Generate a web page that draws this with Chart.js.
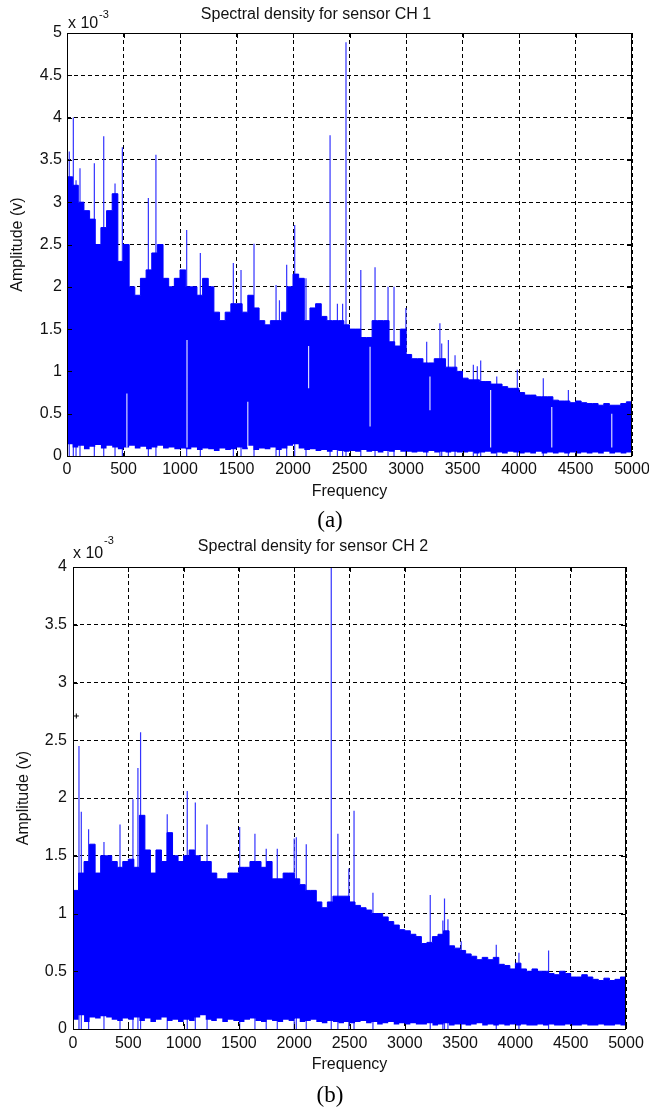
<!DOCTYPE html>
<html>
<head>
<meta charset="utf-8">
<script src="https://cdn.jsdelivr.net/npm/chart.js@4.4.0/dist/chart.umd.min.js"></script>
<style>
  body { margin: 0; background: #fff; }
  #hoja { position: relative; width: 649px; height: 1116px; overflow: hidden; }
  canvas { position: absolute; left: 0; }
  .expo { position: absolute; font-family: "Liberation Sans", Arial, sans-serif; color: #111; white-space: nowrap; }
  .cap { position: absolute; width: 100px; text-align: center; font-family: "Liberation Serif", "Times New Roman", serif; font-size: 23px; line-height: 26px; color: #000; }
</style>
</head>
<body>
<div id="hoja">
  <canvas id="graficoA" width="649" height="505" style="top:0"></canvas>
  <canvas id="graficoB" width="649" height="560" style="top:527px"></canvas>
  <span class="expo" style="left:68px;top:13px;font-size:16px;line-height:19px">x 10</span>
  <span class="expo" style="left:99px;top:8px;font-size:11px;line-height:13px">-3</span>
  <span class="expo" style="left:73px;top:543px;font-size:16px;line-height:19px">x 10</span>
  <span class="expo" style="left:104px;top:534px;font-size:11px;line-height:13px">-3</span>
  <div class="cap" style="left:280px;top:507px">(a)</div>
  <div class="cap" style="left:280px;top:1082px">(b)</div>
</div>
<script>
// amplitudes en unidades de 1e-3 V, bandas de 50 Hz (0-50, 50-100, ...)
const anchoBanda = 50;
const ticksFrec = [0, 500, 1000, 1500, 2000, 2500, 3000, 3500, 4000, 4500, 5000];
const ticksAmpA = [0, 0.5, 1, 1.5, 2, 2.5, 3, 3.5, 4, 4.5, 5];
const ticksAmpB = [0, 0.5, 1, 1.5, 2, 2.5, 3, 3.5, 4];

// --- sensor CH 1 ---
const ch1Alto = [
  3.3, 3.2, 3.0, 2.9, 2.8, 2.5, 2.7, 2.9, 3.1, 2.3,
  2.5, 2.0, 1.9, 2.1, 2.2, 2.4, 2.5, 2.1, 2.0, 2.1,
  2.2, 2.0, 2.0, 1.9, 2.1, 2.0, 1.7, 1.6, 1.7, 1.8,
  1.8, 1.7, 1.9, 1.75, 1.6, 1.55, 1.6, 1.6, 1.7, 2.0,
  2.15, 2.1, 1.6, 1.75, 1.8, 1.65, 1.6, 1.6, 1.6, 1.55,
  1.5, 1.5, 1.4, 1.4, 1.6, 1.6, 1.6, 1.35, 1.3, 1.5,
  1.2, 1.15, 1.15, 1.1, 1.1, 1.15, 1.15, 1.05, 1.05, 1.0,
  0.92, 0.9, 0.9, 0.88, 0.88, 0.85, 0.85, 0.82, 0.8, 0.8,
  0.75, 0.72, 0.72, 0.7, 0.7, 0.7, 0.66, 0.65, 0.65, 0.63,
  0.65, 0.63, 0.62, 0.62, 0.6, 0.62, 0.6, 0.6, 0.62, 0.64
];
const ch1Bajo = [
  0.14, 0.10, 0.12, 0.08, 0.11, 0.13, 0.09, 0.12, 0.10, 0.08,
  0.10, 0.12, 0.09, 0.11, 0.08, 0.10, 0.12, 0.09, 0.10, 0.08,
  0.09, 0.08, 0.10, 0.07, 0.09, 0.08, 0.06, 0.09, 0.07, 0.08,
  0.10, 0.08, 0.12, 0.07, 0.09, 0.08, 0.10, 0.07, 0.09, 0.12,
  0.14, 0.09, 0.07, 0.08, 0.06, 0.07, 0.05, 0.07, 0.06, 0.05,
  0.06, 0.05, 0.07, 0.05, 0.06, 0.04, 0.06, 0.05, 0.07, 0.05,
  0.05, 0.04, 0.05, 0.04, 0.06, 0.04, 0.05, 0.04, 0.05, 0.04,
  0.04, 0.05, 0.03, 0.04, 0.05, 0.03, 0.04, 0.03, 0.05, 0.04,
  0.03, 0.04, 0.03, 0.05, 0.03, 0.04, 0.03, 0.04, 0.03, 0.04,
  0.03, 0.04, 0.03, 0.04, 0.03, 0.05, 0.03, 0.04, 0.03, 0.04
];
const ch1PicosFrec = [20, 56, 80, 115, 242, 325, 425, 490, 720, 787, 1059, 1180, 1472, 1540, 1655, 1850, 1880, 1944, 2015, 2115, 2328, 2393, 2439, 2469, 2600, 2726, 2841, 2894, 2999, 3183, 3300, 3316, 3375, 3434, 3596, 3631, 3661, 3803, 3985, 4215, 4437];
const ch1PicosAmp = [3.6, 4.0, 3.26, 3.4, 3.46, 3.78, 3.22, 3.65, 3.05, 3.56, 2.67, 2.4, 2.28, 2.2, 2.51, 2.02, 1.84, 2.26, 2.73, 2.1, 3.79, 1.8, 1.8, 4.89, 2.2, 2.23, 2.0, 2.0, 1.75, 1.35, 1.57, 1.33, 1.37, 1.19, 1.08, 1.06, 1.13, 0.94, 1.02, 0.92, 0.78];
const ch1HuecosFrec = [530, 1062, 1600, 2138, 2682, 3212, 3749, 4290, 4821];
const ch1HuecosSup = [0.74, 1.37, 0.64, 1.3, 1.29, 0.94, 0.78, 0.58, 0.5];
const ch1HuecosInf = [0.1, 0.1, 0.1, 0.8, 0.35, 0.54, 0.1, 0.1, 0.1];

// --- sensor CH 2 ---
const ch2Alto = [
  1.2, 1.35, 1.45, 1.6, 1.35, 1.5, 1.5, 1.45, 1.4, 1.45,
  1.47, 1.4, 1.85, 1.55, 1.35, 1.55, 1.45, 1.7, 1.5, 1.45,
  1.5, 1.55, 1.5, 1.45, 1.45, 1.35, 1.3, 1.3, 1.35, 1.35,
  1.4, 1.4, 1.45, 1.45, 1.4, 1.45, 1.3, 1.3, 1.35, 1.35,
  1.3, 1.25, 1.2, 1.2, 1.1, 1.05, 1.1, 1.15, 1.15, 1.15,
  1.1, 1.07, 1.05, 1.03, 1.0, 1.0, 0.97, 0.93, 0.9, 0.86,
  0.85, 0.82, 0.8, 0.74, 0.75, 0.8, 0.82, 0.85, 0.72, 0.7,
  0.68, 0.65, 0.63, 0.6, 0.62, 0.6, 0.62, 0.56, 0.55, 0.52,
  0.57, 0.52, 0.5, 0.52, 0.5, 0.5, 0.48, 0.47, 0.5, 0.48,
  0.45, 0.45, 0.47, 0.45, 0.43, 0.42, 0.44, 0.42, 0.43, 0.45
];
const ch2Bajo = [
  0.08, 0.12, 0.06, 0.10, 0.09, 0.11, 0.10, 0.08, 0.07, 0.09,
  0.08, 0.10, 0.07, 0.09, 0.06, 0.08, 0.10, 0.07, 0.08, 0.06,
  0.08, 0.07, 0.10, 0.12, 0.08, 0.07, 0.09, 0.06, 0.08, 0.07,
  0.06, 0.08, 0.09, 0.07, 0.06, 0.08, 0.07, 0.06, 0.08, 0.07,
  0.09, 0.06, 0.07, 0.08, 0.06, 0.05, 0.07, 0.06, 0.05, 0.06,
  0.05, 0.06, 0.07, 0.05, 0.06, 0.04, 0.05, 0.06, 0.04, 0.05,
  0.04, 0.05, 0.04, 0.04, 0.05, 0.03, 0.04, 0.05, 0.03, 0.04,
  0.04, 0.03, 0.04, 0.05, 0.03, 0.04, 0.03, 0.04, 0.03, 0.04,
  0.03, 0.04, 0.03, 0.03, 0.04, 0.03, 0.04, 0.03, 0.03, 0.04,
  0.03, 0.03, 0.04, 0.03, 0.03, 0.04, 0.03, 0.03, 0.04, 0.03
];
const ch2PicosFrec = [54, 75, 141, 280, 425, 542, 587, 611, 852, 1033, 1106, 1212, 1507, 1645, 1747, 1847, 2000, 2019, 2109, 2335, 2395, 2494, 2541, 2712, 3230, 3344, 3359, 3390, 3510, 3827, 4032, 4300];
const ch2PicosAmp = [2.45, 1.88, 1.73, 1.62, 1.77, 1.99, 2.26, 2.57, 1.86, 2.06, 1.96, 1.77, 1.75, 1.69, 1.56, 1.56, 1.65, 1.66, 1.6, 4.3, 1.69, 1.39, 1.89, 1.18, 1.16, 0.94, 1.13, 0.95, 0.76, 0.73, 0.66, 0.68];
const ch2HuecosFrec = [];
const ch2HuecosSup = [];
const ch2HuecosInf = [];
const ch2MarcaFrec = [30];
const ch2MarcaAmp = [2.71];

const fuente = "'Liberation Sans', Arial, sans-serif";
Chart.defaults.color = '#111';
Chart.defaults.font.family = fuente;

// escalones: un punto en el borde izquierdo de cada banda y uno al final
function bordes(valores) {
  const pts = valores.map((v, i) => ({ x: i * anchoBanda, y: v }));
  pts.push({ x: valores.length * anchoBanda, y: valores[valores.length - 1] });
  return pts;
}

// trazos verticales sueltos (picos o huecos), separados con null
function segmentos(frecs, arriba, abajo) {
  const pts = [];
  frecs.forEach((f, i) => {
    pts.push({ x: f, y: abajo ? abajo[i] : 0 });
    pts.push({ x: f, y: arriba[i] });
    pts.push({ x: f, y: null });
  });
  return pts;
}

// caja tipo MATLAB con marcas hacia adentro
const marco = {
  id: 'marco',
  afterDatasetsDraw(chart) {
    const { ctx, chartArea: a, scales } = chart;
    ctx.save();
    ctx.strokeStyle = '#000';
    ctx.lineWidth = 1;
    ctx.beginPath();
    scales.x.ticks.forEach(t => {
      const px = Math.round(scales.x.getPixelForValue(t.value)) + 0.5;
      ctx.moveTo(px, a.bottom); ctx.lineTo(px, a.bottom - 5);
      ctx.moveTo(px, a.top); ctx.lineTo(px, a.top + 5);
    });
    scales.y.ticks.forEach(t => {
      const py = Math.round(scales.y.getPixelForValue(t.value)) + 0.5;
      ctx.moveTo(a.left, py); ctx.lineTo(a.left + 5, py);
      ctx.moveTo(a.right, py); ctx.lineTo(a.right - 5, py);
    });
    ctx.stroke();
    ctx.strokeRect(Math.round(a.left) + 0.5, Math.round(a.top) + 0.5,
      Math.round(a.right - a.left) - 1, Math.round(a.bottom - a.top));
    ctx.restore();
  }
};

function dibujar(id, c) {
  const fuenteEje = { family: fuente, size: 16, weight: 'normal' };
  new Chart(document.getElementById(id), {
    type: 'line',
    data: {
      datasets: [
        { label: 'huecos', data: segmentos(c.huecosFrec, c.huecosSup, c.huecosInf), borderColor: 'rgba(255,255,255,0.85)', borderWidth: 1.2, pointRadius: 0, fill: false, order: 0 },
        { label: 'picos', data: segmentos(c.picosFrec, c.picosAmp), borderColor: '#3434ff', borderWidth: 1.2, pointRadius: 0, fill: false, order: 5 },
        { label: 'alto', data: bordes(c.alto), stepped: true, borderColor: '#0000ff', borderWidth: 1, backgroundColor: '#0000ff', fill: '+1', pointRadius: 0, order: 2 },
        { label: 'bajo', data: bordes(c.bajo), stepped: true, borderColor: 'transparent', borderWidth: 0, pointRadius: 0, fill: false, order: 3 },
        { label: 'marca', data: c.marcaFrec.map((f, i) => ({ x: f, y: c.marcaAmp[i] })), showLine: false, pointStyle: 'cross', pointRadius: 2.5, borderColor: '#000', borderWidth: 1, order: 0 }
      ]
    },
    options: {
      responsive: false,
      animation: false,
      devicePixelRatio: 1,
      layout: { padding: { left: 0, right: c.derecha, top: 0, bottom: 0 } },
      plugins: {
        legend: { display: false },
        tooltip: { enabled: false },
        title: {
          display: true, text: c.titulo, color: '#111', font: fuenteEje,
          padding: { top: c.tituloArriba, bottom: c.tituloAbajo }
        }
      },
      scales: {
        x: {
          type: 'linear', min: 0, max: 5000, offset: false,
          afterBuildTicks: s => { s.ticks = ticksFrec.map(v => ({ value: v })); },
          afterFit: s => { s.height = c.altoEjeX; s.paddingLeft = 0; s.paddingRight = 0; },
          ticks: { padding: c.padX, font: fuenteEje, color: '#111', maxRotation: 0, autoSkip: false, callback: v => String(v) },
          grid: { color: '#000', lineWidth: 1, drawTicks: false, offset: false, borderDash: [4, 3] },
          border: { display: false, dash: [4, 3] },
          title: { display: true, text: 'Frequency', color: '#111', font: fuenteEje, padding: { top: 0, bottom: c.frecAbajo } }
        },
        y: {
          type: 'linear', min: 0, max: c.maxY,
          afterBuildTicks: s => { s.ticks = c.ticksY.map(v => ({ value: v })); },
          afterFit: s => { s.width = c.anchoEjeY; s.paddingTop = 0; s.paddingBottom = 0; },
          ticks: { padding: c.padY, font: fuenteEje, color: '#111', callback: v => String(v) },
          grid: { color: '#000', lineWidth: 1, drawTicks: false, borderDash: [4, 3] },
          border: { display: false, dash: [4, 3] },
          title: { display: true, text: 'Amplitude (v)', color: '#111', font: fuenteEje, padding: { top: c.ampIzq, bottom: 0 } }
        }
      }
    },
    plugins: [marco]
  });
}

dibujar('graficoA', {
  titulo: 'Spectral density for sensor CH 1',
  alto: ch1Alto, bajo: ch1Bajo,
  picosFrec: ch1PicosFrec, picosAmp: ch1PicosAmp,
  huecosFrec: ch1HuecosFrec, huecosSup: ch1HuecosSup, huecosInf: ch1HuecosInf,
  marcaFrec: [], marcaAmp: [],
  maxY: 5, ticksY: ticksAmpA,
  derecha: 17, anchoEjeY: 67, altoEjeX: 49,
  tituloArriba: 5.4, tituloAbajo: 8.4,
  padX: 4.4, padY: 5, frecAbajo: 3.4, ampIzq: 8.4
});

dibujar('graficoB', {
  titulo: 'Spectral density for sensor CH 2',
  alto: ch2Alto, bajo: ch2Bajo,
  picosFrec: ch2PicosFrec, picosAmp: ch2PicosAmp,
  huecosFrec: ch2HuecosFrec, huecosSup: ch2HuecosSup, huecosInf: ch2HuecosInf,
  marcaFrec: ch2MarcaFrec, marcaAmp: ch2MarcaAmp,
  maxY: 4, ticksY: ticksAmpB,
  derecha: 23, anchoEjeY: 73, altoEjeX: 58,
  tituloArriba: 10.4, tituloAbajo: 10.4,
  padX: 5.4, padY: 6, frecAbajo: 12.4, ampIzq: 14.4
});
</script>
</body>
</html>
